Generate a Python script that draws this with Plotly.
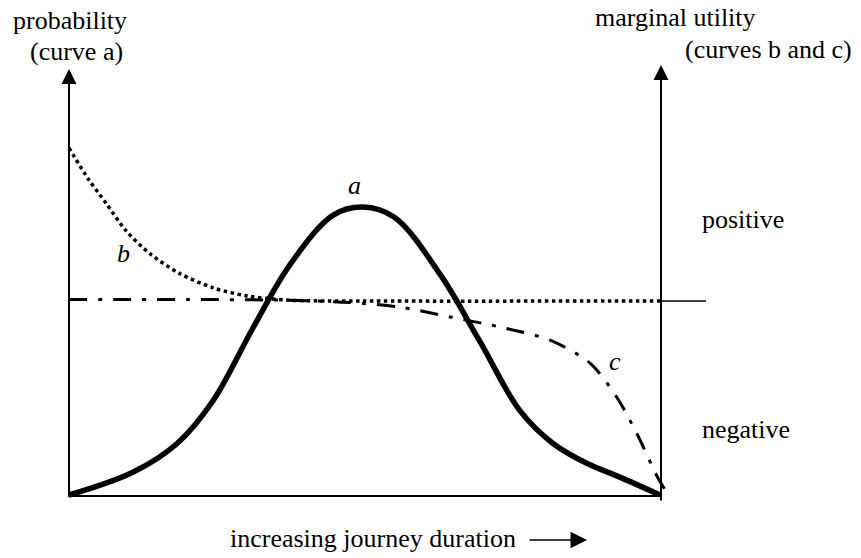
import plotly.graph_objects as go

# ---------------- data (read from the schematic) ----------------
# curve a: probability vs. journey duration (0 = start, 100 = end of axis)
duration_a = [0, 10.8, 18.3, 24.4, 31.1, 37.4, 44.7, 49.7, 55.0, 62.8,
              69.5, 76.3, 81.9, 87.6, 93.2, 100]
probability_a = [0, 0.079, 0.179, 0.328, 0.579, 0.80, 0.972, 1.0, 0.965, 0.766,
                 0.534, 0.293, 0.179, 0.110, 0.062, 0]

# curve b: marginal utility (dotted)
duration_b = [0, 3.4, 6.3, 9.6, 13.7, 18.8, 24.4, 30.1, 37.4, 50, 100]
utility_b = [1.0, 0.79, 0.638, 0.461, 0.309, 0.178, 0.086, 0.033, 0.005, 0.0, 0.0]

# curve c: marginal utility (dash-dot)
duration_c = [0, 20, 37, 47.5, 56, 64.5, 72.9, 81.4, 88.2, 92.7, 96.1, 99.5, 100.8]
utility_c = [0.01, 0.01, 0.005, -0.01, -0.04, -0.105, -0.17, -0.256, -0.407,
             -0.63, -0.868, -1.145, -1.23]

curve_labels = ["a", "b", "c"]

# ---------------- layout geometry ----------------
W, H = 861, 558
X0_PX, X1_PX = 69, 660          # duration 0 and 100
YP0_PX, YP1_PX = 495, 207       # probability 0 and 1
YU0_PX, YU1_PX = 301, 148       # utility 0 and 1

xs = (X1_PX - X0_PX) / 100.0
x_range = [-X0_PX / xs, (W - X0_PX) / xs]
ps = (YP0_PX - YP1_PX)
yp_range = [-(H - YP0_PX) / ps, YP0_PX / ps]
us = (YU0_PX - YU1_PX)
yu_range = [-(H - YU0_PX) / us, YU0_PX / us]


def px(x):
    return x / W


def py(y):
    return 1 - y / H


FONT = "Liberation Serif"
BLACK = "#000000"

fig = go.Figure()
fig.add_trace(go.Scatter(x=duration_a, y=probability_a, mode="lines",
                         line=dict(color=BLACK, width=5.5, shape="spline", smoothing=1.0),
                         yaxis="y", showlegend=False, hoverinfo="skip"))
fig.add_trace(go.Scatter(x=duration_b, y=utility_b, mode="lines",
                         line=dict(color=BLACK, width=3.5, dash="3.5px,3.5px", shape="spline", smoothing=0.8),
                         yaxis="y2", showlegend=False, hoverinfo="skip"))
fig.add_trace(go.Scatter(x=duration_c, y=utility_c, mode="lines",
                         line=dict(color=BLACK, width=3, dash="18px,11px,4px,11px", shape="spline", smoothing=0.8),
                         yaxis="y2", showlegend=False, hoverinfo="skip"))

shapes = [
    dict(type="line", xref="paper", yref="paper", x0=px(68), x1=px(661), y0=py(496), y1=py(496),
         line=dict(color=BLACK, width=2)),
    dict(type="line", xref="paper", yref="paper", x0=px(661), x1=px(706), y0=py(301), y1=py(301),
         line=dict(color=BLACK, width=1.5)),
]

annotations = []
# axis arrows
annotations.append(dict(xref="paper", yref="paper", x=px(69), y=py(69), text="", showarrow=True,
                        axref="pixel", ayref="pixel", ax=0, ay=429, arrowhead=2, arrowsize=1.5,
                        arrowwidth=2, arrowcolor=BLACK, standoff=0))
annotations.append(dict(xref="paper", yref="paper", x=px(661), y=py(65), text="", showarrow=True,
                        axref="pixel", ayref="pixel", ax=0, ay=437, arrowhead=2, arrowsize=1.5,
                        arrowwidth=2, arrowcolor=BLACK, standoff=0))
annotations.append(dict(xref="paper", yref="paper", x=px(587), y=py(540), text="", showarrow=True,
                        axref="pixel", ayref="pixel", ax=-59, ay=0, arrowhead=2, arrowsize=2.2,
                        arrowwidth=1.5, arrowcolor=BLACK, standoff=0))


def txt(s, x, y, anchor="center", italic=False):
    annotations.append(dict(xref="paper", yref="paper", x=px(x), y=py(y), text=s, showarrow=False,
                            xanchor=anchor, yanchor="middle",
                            font=dict(family=FONT, size=26, color=BLACK,
                                      style="italic" if italic else "normal")))


txt("probability", 70, 20)
txt("(curve a)", 76, 51)
txt("marginal utility", 675, 18)
txt("(curves b and c)", 683, 49, anchor="left")
txt("positive", 700, 219, anchor="left")
txt("negative", 700, 429, anchor="left")
txt("increasing journey duration", 228, 538, anchor="left")
txt(curve_labels[0], 354, 185, italic=True)
txt(curve_labels[1], 123, 254, italic=True)
txt(curve_labels[2], 615, 361, italic=True)

fig.update_layout(
    width=W, height=H,
    margin=dict(l=0, r=0, t=0, b=0),
    paper_bgcolor="white", plot_bgcolor="white",
    xaxis=dict(range=x_range, visible=False, fixedrange=True),
    yaxis=dict(range=yp_range, visible=False, fixedrange=True),
    yaxis2=dict(range=yu_range, visible=False, overlaying="y", fixedrange=True),
    shapes=shapes, annotations=annotations,
    showlegend=False,
)

fig.write_html("out.html", config={"displayModeBar": False},
               post_script="document.body.style.margin='0';document.body.style.overflow='hidden';")
